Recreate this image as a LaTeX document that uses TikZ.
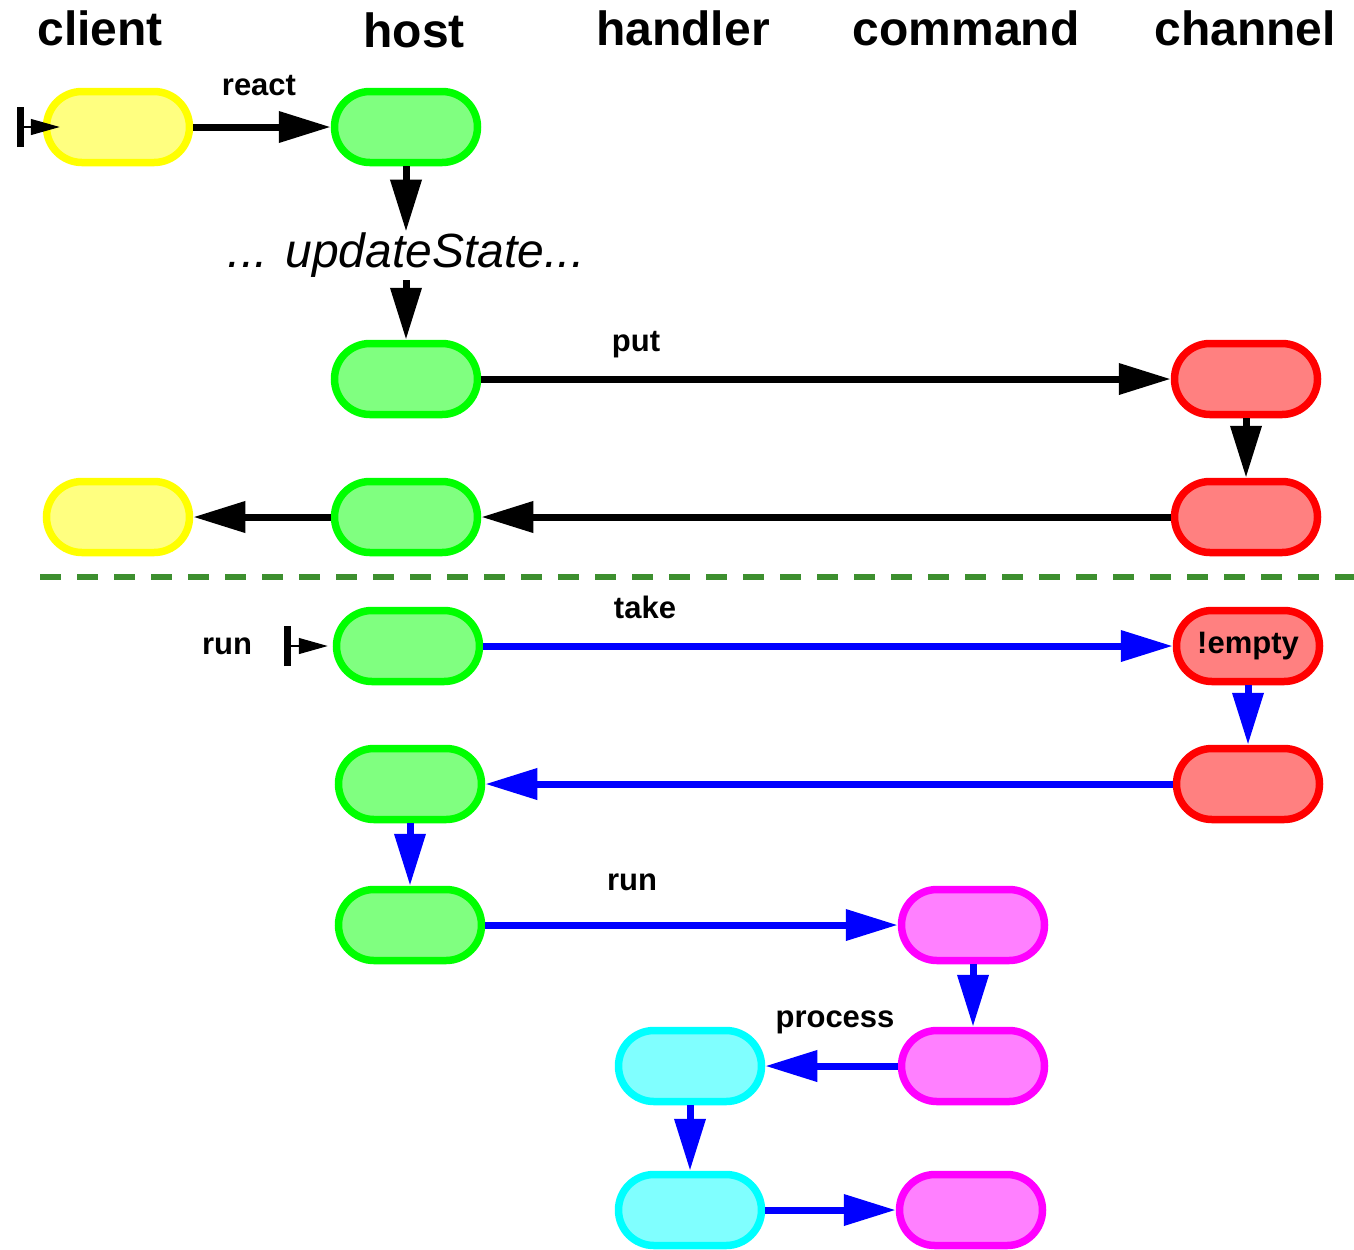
\documentclass[tikz,border=0pt]{standalone}
\usepackage{fontspec}
\setmainfont{Liberation Sans}
\usepackage{tikz}
\usetikzlibrary{arrows.meta, positioning}
\usepackage{xcolor}
\definecolor{sepgreen}{RGB}{61,143,47}
\definecolor{pyellow}{RGB}{255,255,0}
\definecolor{pgreen}{RGB}{0,255,0}
\definecolor{pred}{RGB}{255,0,0}
\definecolor{pmagenta}{RGB}{255,0,255}
\definecolor{pcyan}{RGB}{0,255,255}
\definecolor{pblue}{RGB}{0,0,255}

\begin{document}
\begin{tikzpicture}[x=0.5pt, y=-0.5pt,
    pill/.style={draw=#1, fill=#1!50, line width=3.75pt, minimum width=71.5pt,
        minimum height=35.5pt, rounded corners=17.75pt, inner sep=0pt,
        font=\fontsize{15.5}{18}\selectfont\bfseries},
    head/.style={anchor=base, font=\fontsize{24}{28}\selectfont\bfseries},
    lbl/.style={anchor=base, font=\fontsize{15.5}{18}\selectfont\bfseries},
    upd/.style={anchor=base, inner sep=0pt, text height=17.5pt, text depth=6.5pt,
        font=\fontsize{24}{28}\selectfont\itshape},
    msg/.style={-{Triangle[length=26pt, width=15pt]}, line width=3.5pt, draw=#1, fill=#1},
    msg/.default=black,
    startmark/.style={{Bar[width=20pt, line width=3.5pt]}-{Triangle[length=14.5pt, width=8pt]}, line width=0.6pt}]
    \useasboundingbox (0,0) rectangle (1354,1249);

    % 标题
    \node[head] (tclient) at (100,45) {client};
    \node[head] (thost) at (414,47) {host};
    \node[head] (thandler) at (683,45) {handler};
    \node[head] (tcommand) at (966,45) {command};
    \node[head] (tchannel) at (1245,45) {channel};

    % 上半部分
    \node[pill=pyellow] (c1) at (118,127) {};
    \node[pill=pgreen] (h1) at (406,127) {};
    \node[upd] (upd) at (406,267) {... updateState...};
    \node[pill=pgreen] (h2) at (406,379) {};
    \node[pill=pred] (ch1) at (1246,379) {};
    \node[pill=pyellow] (c2) at (118,517) {};
    \node[pill=pgreen] (h3) at (406,517) {};
    \node[pill=pred] (ch2) at (1246,517) {};

    \coordinate (s1) at (17,127);
    \draw[startmark] (s1) -- ([xshift=8.5pt]c1.west);
    \draw[msg] (c1) -- (h1);
    \node[lbl] (lreact) at (259,95) {react};
    \draw[msg] (h1) -- (upd);
    \draw[msg] (upd) -- (h2);
    \draw[msg] (h2) -- (ch1);
    \node[lbl] (lput) at (636,351) {put};
    \draw[msg] (ch1) -- (ch2);
    \draw[msg] (ch2) -- (h3);
    \draw[msg] (h3) -- (c2);

    % 分隔线
    \draw[sepgreen, line width=3pt, dash pattern=on 10.5pt off 8pt] (40,577) -- (1354,577);

    % 下半部分
    \node[pill=pgreen] (h4) at (408,646) {};
    \node[pill=pred] (ch3) at (1248,646) {!empty};
    \node[pill=pgreen] (h5) at (410,784) {};
    \node[pill=pred] (ch4) at (1248,784) {};
    \node[pill=pgreen] (h6) at (410,925) {};
    \node[pill=pmagenta] (cm1) at (973,925) {};
    \node[pill=pcyan] (hd1) at (690,1066) {};
    \node[pill=pmagenta] (cm2) at (973,1066) {};
    \node[pill=pcyan] (hd2) at (690,1210) {};
    \node[pill=pmagenta] (cm3) at (971,1210) {};

    \node[lbl] (lrun) at (227,654) {run};
    \coordinate (s4) at (284,646);
    \draw[startmark] (s4) -- ([xshift=-2.5pt]h4.west);
    \draw[msg=pblue] (h4) -- (ch3);
    \node[lbl] (ltake) at (645,618) {take};
    \draw[msg=pblue] (ch3) -- (ch4);
    \draw[msg=pblue] (ch4) -- (h5);
    \draw[msg=pblue] (h5) -- (h6);
    \draw[msg=pblue] (h6) -- (cm1);
    \node[lbl] (lrun2) at (632,890) {run};
    \draw[msg=pblue] (cm1) -- (cm2);
    \draw[msg=pblue] (cm2) -- (hd1);
    \node[lbl] (lproc) at (835,1027) {process};
    \draw[msg=pblue] (hd1) -- (hd2);
    \draw[msg=pblue] (hd2) -- (cm3);
\end{tikzpicture}
\end{document}
